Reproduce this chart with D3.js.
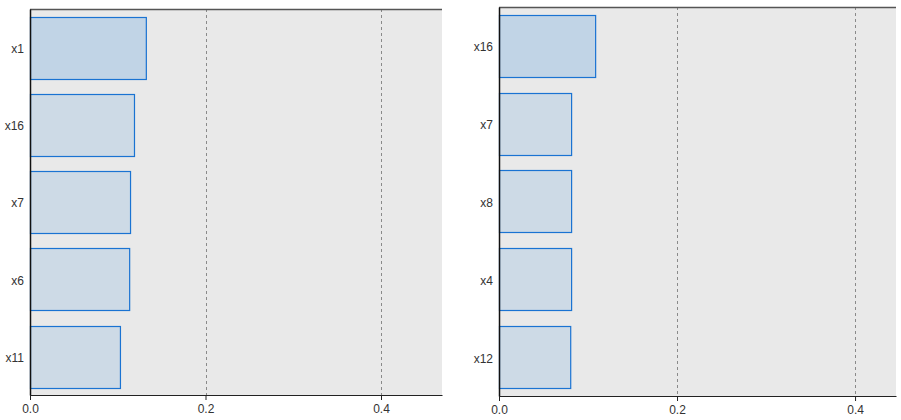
<!DOCTYPE html>
<html><head><meta charset="utf-8">
<script src="https://cdn.jsdelivr.net/npm/d3@7"></script>
<style>body{margin:0;background:#fff;}svg{display:block;font-family:"Liberation Sans",Arial,sans-serif;}</style>
</head><body><svg id="c" width="901" height="420"></svg>
<script>
const leftCats = ["x1","x16","x7","x6","x11"];
const leftVals = [0.132, 0.1185, 0.114, 0.113, 0.1025];
const rightCats = ["x16","x7","x8","x4","x12"];
const rightVals = [0.108, 0.081, 0.081, 0.081, 0.080];
const ticks = [0, 0.2, 0.4];

const svg = d3.select("#c");
function panel(cats, vals, box, xmax){
  const g = svg.append("g");
  const x = d3.scaleLinear().domain([0, xmax]).range([box.x0, box.x1]);
  const y = d3.scaleBand().domain(cats).range([box.y0, box.y1]).paddingInner(0.2).paddingOuter(0.1);
  g.append("rect").attr("x", box.x0).attr("y", box.y0).attr("width", box.x1-box.x0).attr("height", box.y1-box.y0).attr("fill", "#e9e9e9");
  g.selectAll(".grid").data(ticks.filter(t=>t>0)).join("line")
    .attr("x1", d=>Math.round(x(d))+0.5).attr("x2", d=>Math.round(x(d))+0.5)
    .attr("y1", box.y0).attr("y2", box.y1)
    .attr("stroke", "#8a8a8a").attr("stroke-dasharray", "3,3").attr("stroke-width", 1);
  g.selectAll(".bar").data(cats).join("rect")
    .attr("x", box.x0+0.5).attr("y", d=>Math.round(y(d))+0.5)
    .attr("width", (d,i)=>x(vals[i])-box.x0).attr("height", Math.round(y.bandwidth()))
    .attr("fill", (d,i)=> i===0 ? "#c1d4e6" : "#cddae6")
    .attr("stroke", "#1a73d2").attr("stroke-width", 1.2);
  g.append("line").attr("x1", box.x0).attr("x2", box.x1).attr("y1", box.y0+0.5).attr("y2", box.y0+0.5).attr("stroke", "#555").attr("stroke-width", 1.5);
  const ya = d3.axisLeft(y).tickSize(0).tickPadding(6);
  const yg = g.append("g").attr("transform", `translate(${box.x0},0)`).call(ya);
  yg.select(".domain").attr("stroke", "#111").attr("stroke-width", 1.5);
  yg.selectAll("text").attr("font-size", 12).attr("fill", "#333").attr("dy", "0.45em");
  const xa = d3.axisBottom(x).tickValues(ticks).tickFormat(d3.format(".1f")).tickSize(5).tickSizeOuter(0).tickPadding(4);
  const xg = g.append("g").attr("transform", `translate(0,${box.y1})`).call(xa);
  xg.select(".domain").attr("stroke", "#222").attr("stroke-width", 1.2);
  xg.selectAll(".tick line").attr("stroke", "#222");
  xg.selectAll("text").attr("font-size", 12).attr("fill", "#333");
}
panel(leftCats, leftVals, {x0:30, x1:442, y0:9, y1:395}, 0.4695);
panel(rightCats, rightVals, {x0:499, x1:896, y0:7, y1:396}, 0.446);
</script></body></html>
